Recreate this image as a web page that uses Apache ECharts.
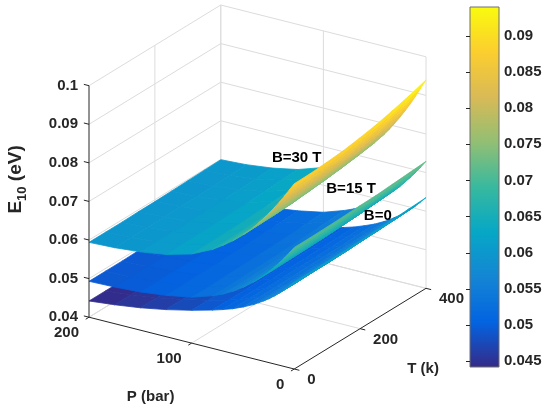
<!DOCTYPE html>
<html>
<head>
<meta charset="utf-8">
<script src="https://cdn.jsdelivr.net/npm/echarts@6.0.0/dist/echarts.min.js"></script>
<style>
html, body { margin: 0; padding: 0; background: #fff; }
#main { width: 550px; height: 413px; }
</style>
</head>
<body>
<div id="main"></div>
<script>
var chart = echarts.init(document.getElementById('main'), null, {renderer: 'canvas'});

// surfaces E10(P,T): one row per T value, one column per P value
var pValues = [0, 5, 10, 15, 20, 25, 30, 35, 40, 50, 60, 70, 80, 100, 125, 150, 175, 200];
var tValues = [0, 50, 100, 150, 200, 250, 300, 350, 400];

var e_B0 = [
  [0.0625, 0.0611, 0.0598, 0.0586, 0.0575, 0.0565, 0.0556, 0.0548, 0.0540, 0.0527, 0.0516, 0.0507, 0.0499, 0.0485, 0.0470, 0.0458, 0.0449, 0.0442],
  [0.0625, 0.0611, 0.0598, 0.0586, 0.0575, 0.0565, 0.0556, 0.0548, 0.0540, 0.0527, 0.0516, 0.0507, 0.0499, 0.0485, 0.0470, 0.0458, 0.0449, 0.0442],
  [0.0626, 0.0612, 0.0599, 0.0587, 0.0576, 0.0566, 0.0557, 0.0548, 0.0540, 0.0527, 0.0516, 0.0507, 0.0499, 0.0485, 0.0470, 0.0458, 0.0449, 0.0442],
  [0.0626, 0.0612, 0.0599, 0.0587, 0.0576, 0.0566, 0.0557, 0.0549, 0.0541, 0.0528, 0.0517, 0.0508, 0.0500, 0.0486, 0.0471, 0.0458, 0.0449, 0.0442],
  [0.0627, 0.0613, 0.0600, 0.0588, 0.0577, 0.0567, 0.0558, 0.0550, 0.0542, 0.0529, 0.0518, 0.0508, 0.0500, 0.0486, 0.0471, 0.0459, 0.0450, 0.0443],
  [0.0629, 0.0615, 0.0602, 0.0590, 0.0579, 0.0568, 0.0559, 0.0551, 0.0543, 0.0529, 0.0518, 0.0509, 0.0501, 0.0487, 0.0472, 0.0459, 0.0450, 0.0443],
  [0.0631, 0.0617, 0.0604, 0.0591, 0.0580, 0.0569, 0.0560, 0.0552, 0.0544, 0.0530, 0.0519, 0.0510, 0.0502, 0.0487, 0.0472, 0.0460, 0.0451, 0.0444],
  [0.0633, 0.0619, 0.0605, 0.0593, 0.0582, 0.0571, 0.0562, 0.0553, 0.0545, 0.0532, 0.0521, 0.0511, 0.0503, 0.0488, 0.0473, 0.0460, 0.0451, 0.0444],
  [0.0635, 0.0621, 0.0607, 0.0595, 0.0584, 0.0573, 0.0564, 0.0555, 0.0547, 0.0533, 0.0522, 0.0512, 0.0504, 0.0489, 0.0474, 0.0461, 0.0452, 0.0445]
];
var e_B15 = [
  [0.0715, 0.0697, 0.0680, 0.0664, 0.0649, 0.0635, 0.0622, 0.0610, 0.0598, 0.0578, 0.0561, 0.0547, 0.0536, 0.0519, 0.0507, 0.0499, 0.0495, 0.0493],
  [0.0715, 0.0697, 0.0680, 0.0664, 0.0649, 0.0635, 0.0622, 0.0610, 0.0598, 0.0578, 0.0561, 0.0547, 0.0536, 0.0519, 0.0507, 0.0499, 0.0495, 0.0493],
  [0.0716, 0.0698, 0.0681, 0.0665, 0.0650, 0.0636, 0.0623, 0.0611, 0.0599, 0.0579, 0.0562, 0.0548, 0.0537, 0.0520, 0.0508, 0.0500, 0.0496, 0.0493],
  [0.0717, 0.0699, 0.0682, 0.0666, 0.0651, 0.0637, 0.0624, 0.0612, 0.0600, 0.0580, 0.0563, 0.0549, 0.0538, 0.0521, 0.0508, 0.0500, 0.0496, 0.0494],
  [0.0719, 0.0701, 0.0684, 0.0668, 0.0653, 0.0638, 0.0625, 0.0613, 0.0601, 0.0581, 0.0564, 0.0550, 0.0539, 0.0522, 0.0510, 0.0501, 0.0497, 0.0495],
  [0.0720, 0.0702, 0.0685, 0.0669, 0.0654, 0.0640, 0.0627, 0.0615, 0.0603, 0.0583, 0.0566, 0.0552, 0.0541, 0.0523, 0.0511, 0.0503, 0.0498, 0.0496],
  [0.0723, 0.0705, 0.0688, 0.0672, 0.0657, 0.0642, 0.0629, 0.0617, 0.0605, 0.0585, 0.0568, 0.0554, 0.0543, 0.0525, 0.0513, 0.0504, 0.0499, 0.0497],
  [0.0726, 0.0708, 0.0691, 0.0675, 0.0660, 0.0645, 0.0632, 0.0620, 0.0608, 0.0588, 0.0570, 0.0556, 0.0545, 0.0527, 0.0515, 0.0506, 0.0501, 0.0498],
  [0.0729, 0.0711, 0.0694, 0.0678, 0.0663, 0.0648, 0.0635, 0.0623, 0.0611, 0.0591, 0.0573, 0.0559, 0.0548, 0.0530, 0.0517, 0.0508, 0.0503, 0.0500]
];
var e_B30 = [
  [0.0880, 0.0860, 0.0840, 0.0821, 0.0803, 0.0786, 0.0770, 0.0755, 0.0740, 0.0714, 0.0692, 0.0673, 0.0656, 0.0631, 0.0613, 0.0603, 0.0597, 0.0594],
  [0.0881, 0.0861, 0.0841, 0.0822, 0.0804, 0.0787, 0.0771, 0.0756, 0.0741, 0.0715, 0.0693, 0.0673, 0.0656, 0.0631, 0.0613, 0.0603, 0.0597, 0.0594],
  [0.0884, 0.0863, 0.0843, 0.0824, 0.0806, 0.0789, 0.0772, 0.0757, 0.0742, 0.0716, 0.0694, 0.0674, 0.0657, 0.0632, 0.0614, 0.0603, 0.0597, 0.0594],
  [0.0888, 0.0868, 0.0847, 0.0828, 0.0809, 0.0792, 0.0776, 0.0760, 0.0745, 0.0718, 0.0696, 0.0676, 0.0659, 0.0633, 0.0615, 0.0604, 0.0598, 0.0595],
  [0.0895, 0.0874, 0.0853, 0.0833, 0.0814, 0.0797, 0.0780, 0.0764, 0.0749, 0.0722, 0.0699, 0.0679, 0.0661, 0.0635, 0.0616, 0.0605, 0.0599, 0.0595],
  [0.0903, 0.0882, 0.0860, 0.0840, 0.0821, 0.0802, 0.0785, 0.0769, 0.0753, 0.0726, 0.0702, 0.0682, 0.0664, 0.0637, 0.0617, 0.0606, 0.0599, 0.0596],
  [0.0914, 0.0891, 0.0869, 0.0848, 0.0828, 0.0810, 0.0792, 0.0775, 0.0759, 0.0731, 0.0707, 0.0686, 0.0667, 0.0639, 0.0619, 0.0607, 0.0600, 0.0597],
  [0.0926, 0.0903, 0.0880, 0.0858, 0.0838, 0.0818, 0.0800, 0.0783, 0.0766, 0.0737, 0.0712, 0.0691, 0.0671, 0.0643, 0.0622, 0.0609, 0.0602, 0.0598],
  [0.0940, 0.0916, 0.0892, 0.0869, 0.0848, 0.0828, 0.0809, 0.0791, 0.0774, 0.0744, 0.0718, 0.0696, 0.0676, 0.0646, 0.0624, 0.0611, 0.0603, 0.0599]
];
var sheetNames = ['B=0', 'B=15 T', 'B=30 T'];

var pTicks = [0, 100, 200];
var tTicks = [0, 200, 400];
var eTicks = [0.04, 0.05, 0.06, 0.07, 0.08, 0.09, 0.1];
var cbTicks = [0.045, 0.05, 0.055, 0.06, 0.065, 0.07, 0.075, 0.08, 0.085, 0.09];

var parula = ['#352a87', '#0363e1', '#1485d4', '#06a7c6', '#38b99e', '#92bf73', '#d9ba56', '#fcce2e', '#f9fb0e'];
var fontFam = '"Liberation Sans", Arial, Helvetica, sans-serif';
var axisColor = '#262626';
var gridColor = '#dcdcdc';

var sheets = [e_B0, e_B15, e_B30];

// where the sheet names sit (P, T, E)
var sheetLabelAt = [[47, 400, 0.0557], [73, 400, 0.0609], [126, 400, 0.0654]];

// ---- view, matlab style azimuth / elevation ----
var RAD = Math.PI / 180;
var viewAz = 147.3, viewEl = 23.2;
var boxAspect = [1, 1, 1.035];
var cb = Math.cos(viewAz * RAD), sb = Math.sin(viewAz * RAD);
var ce = Math.cos(viewEl * RAD), se = Math.sin(viewEl * RAD);
var pRange = [pTicks[0], pTicks[pTicks.length - 1]];
var tRange = [tTicks[0], tTicks[tTicks.length - 1]];
var eRange = [eTicks[0], eTicks[eTicks.length - 1]];

function norm(P, T, E) {
  return [(P - pRange[0]) / (pRange[1] - pRange[0]) * boxAspect[0],
          (T - tRange[0]) / (tRange[1] - tRange[0]) * boxAspect[1],
          (E - eRange[0]) / (eRange[1] - eRange[0]) * boxAspect[2]];
}
function proj(P, T, E) {
  var n = norm(P, T, E);
  return [n[0] * cb + n[1] * sb, se * (n[0] * sb - n[1] * cb) + ce * n[2]];
}
function depth(P, T, E) {
  var n = norm(P, T, E);
  return ce * (n[0] * sb - n[1] * cb) - se * n[2];
}

var eMin = Infinity, eMax = -Infinity;
sheets.forEach(function (g) {
  g.forEach(function (row) {
    row.forEach(function (v) { eMin = Math.min(eMin, v); eMax = Math.max(eMax, v); });
  });
});

// cells, far ones first, lower sheet first
var quads = [];
sheets.forEach(function (g, s) {
  var list = [];
  for (var i = 0; i < tValues.length - 1; i++) {
    for (var j = 0; j < pValues.length - 1; j++) {
      var c = [[j, i], [j + 1, i], [j + 1, i + 1], [j, i + 1]];
      var m = 0, d = 0;
      c.forEach(function (k) {
        m += g[k[1]][k[0]] / 4;
        d += depth(pValues[k[0]], tValues[k[1]], g[k[1]][k[0]]) / 4;
      });
      list.push({v: [m, s, i, j], d: d});
    }
  }
  list.sort(function (a, b) { return b.d - a.d; });
  list.forEach(function (q) { quads.push(q.v); });
});

function renderQuad(params, api) {
  var s = api.value(1), i = api.value(2), j = api.value(3);
  var g = sheets[s];
  var pts = [[j, i], [j + 1, i], [j + 1, i + 1], [j, i + 1]].map(function (k) {
    return api.coord(proj(pValues[k[0]], tValues[k[1]], g[k[1]][k[0]]));
  });
  var col = api.visual('color');
  return {type: 'polygon', shape: {points: pts}, style: {fill: col, stroke: col, lineWidth: 0.8}};
}

function seg(api, a, b, color, w) {
  var p1 = api.coord(proj(a[0], a[1], a[2]));
  var p2 = api.coord(proj(b[0], b[1], b[2]));
  return {type: 'line', shape: {x1: p1[0], y1: p1[1], x2: p2[0], y2: p2[1]},
          style: {stroke: color, lineWidth: w}};
}

function txt(x, y, text, align, vAlign, size) {
  return {type: 'text', x: x, y: y, style: {text: text, fill: axisColor, fontSize: size || 15, fontWeight: 'bold',
          fontFamily: fontFam, align: align, verticalAlign: vAlign}};
}

function renderGrid(params, api) {
  var ch = [];
  eTicks.forEach(function (E) {
    ch.push(seg(api, [pRange[1], tRange[0], E], [pRange[1], tRange[1], E], gridColor, 1));
    ch.push(seg(api, [pRange[0], tRange[1], E], [pRange[1], tRange[1], E], gridColor, 1));
  });
  tTicks.forEach(function (T) {
    if (T === tRange[0]) return;
    ch.push(seg(api, [pRange[1], T, eRange[0]], [pRange[1], T, eRange[1]], gridColor, 1));
    ch.push(seg(api, [pRange[0], T, eRange[0]], [pRange[1], T, eRange[0]], gridColor, 1));
  });
  pTicks.forEach(function (P) {
    ch.push(seg(api, [P, tRange[1], eRange[0]], [P, tRange[1], eRange[1]], gridColor, 1));
    if (P !== pRange[0]) ch.push(seg(api, [P, tRange[0], eRange[0]], [P, tRange[1], eRange[0]], gridColor, 1));
  });
  return {type: 'group', children: ch};
}

function renderAxes(params, api) {
  var ch = [];
  var dp = (pRange[1] - pRange[0]) * 0.025, dt = (tRange[1] - tRange[0]) * 0.025;
  ch.push(seg(api, [pRange[1], tRange[0], eRange[0]], [pRange[1], tRange[0], eRange[1]], axisColor, 1));
  ch.push(seg(api, [pRange[0], tRange[0], eRange[0]], [pRange[1], tRange[0], eRange[0]], axisColor, 1));
  ch.push(seg(api, [pRange[0], tRange[0], eRange[0]], [pRange[0], tRange[1], eRange[0]], axisColor, 1));
  eTicks.forEach(function (E) {
    ch.push(seg(api, [pRange[1], tRange[0], E], [pRange[1] + dp, tRange[0], E], axisColor, 1));
    var c = api.coord(proj(pRange[1], tRange[0], E));
    ch.push(txt(c[0] - 11, c[1], String(E), 'right', 'middle'));
  });
  pTicks.forEach(function (P) {
    ch.push(seg(api, [P, tRange[0], eRange[0]], [P, tRange[0] - dt, eRange[0]], axisColor, 1));
    var c = api.coord(proj(P, tRange[0], eRange[0]));
    ch.push(txt(c[0] - 10, c[1] + 16, String(P), 'right', 'middle'));
  });
  tTicks.forEach(function (T) {
    ch.push(seg(api, [pRange[0], T, eRange[0]], [pRange[0] - dp, T, eRange[0]], axisColor, 1));
    var c = api.coord(proj(pRange[0], T, eRange[0]));
    ch.push(txt(c[0] + 13, c[1] + 11, String(T), 'left', 'middle'));
  });
  var pm = api.coord(proj((pRange[0] + pRange[1]) / 2, tRange[0], eRange[0]));
  ch.push(txt(pm[0] - 41, pm[1] + 54, 'P (bar)', 'center', 'middle', 15));
  var tm = api.coord(proj(pRange[0], (tRange[0] + tRange[1]) / 2, eRange[0]));
  ch.push(txt(tm[0] + 63, tm[1] + 40, 'T (k)', 'center', 'middle', 15));
  var em = api.coord(proj(pRange[1], tRange[0], (eRange[0] + eRange[1]) / 2));
  ch.push({type: 'text', x: em[0] - 73, y: em[1] - 22, rotation: Math.PI / 2,
    style: {text: '{a|E}{b|10}{a| (eV)}', align: 'center', verticalAlign: 'middle',
      rich: {
        a: {fontSize: 19, fontWeight: 'bold', fontFamily: fontFam, fill: axisColor, color: axisColor, lineHeight: 26, verticalAlign: 'middle'},
        b: {fontSize: 13, fontWeight: 'bold', fontFamily: fontFam, fill: axisColor, color: axisColor, lineHeight: 13, verticalAlign: 'bottom'}
      }}});
  return {type: 'group', children: ch};
}

function renderNames(params, api) {
  var k = params.dataIndex;
  var a = sheetLabelAt[k];
  var c = api.coord(proj(a[0], a[1], a[2]));
  return {type: 'text', x: c[0], y: c[1], style: {text: sheetNames[k], fill: '#000', fontSize: 15, fontWeight: 'bold',
    fontFamily: fontFam, align: 'center', verticalAlign: 'middle'}};
}

function renderColorbar(params, api) {
  var tl = api.coord([0, eMax]), br = api.coord([1, eMin]);
  var stops = parula.map(function (c, i) { return {offset: i / (parula.length - 1), color: c}; });
  return {type: 'rect', shape: {x: tl[0], y: tl[1], width: br[0] - tl[0], height: br[1] - tl[1]},
    style: {fill: new echarts.graphic.LinearGradient(0, 1, 0, 0, stops), stroke: '#6e6e6e', lineWidth: 1}};
}

var c0 = proj(pRange[0], tRange[0], eRange[0]);
var uMin = proj(pRange[1], tRange[0], eRange[0])[0];
var uMax = proj(pRange[0], tRange[1], eRange[0])[0];
var vMax = proj(pRange[1], tRange[1], eRange[1])[1];

var option = {
  backgroundColor: '#fff',
  animation: false,
  grid: [
    {left: 89, right: 124, top: 5, bottom: 44},
    {left: 470, width: 29, top: 7, bottom: 46}
  ],
  xAxis: [
    {type: 'value', gridIndex: 0, min: uMin, max: uMax, show: false},
    {type: 'value', gridIndex: 1, min: 0, max: 1, show: false}
  ],
  yAxis: [
    {type: 'value', gridIndex: 0, min: c0[1], max: vMax, show: false},
    {type: 'value', gridIndex: 1, min: eMin, max: eMax, position: 'right', z: 10,
      axisLine: {show: false}, splitLine: {show: false},
      axisTick: {show: true, inside: true, length: 4, lineStyle: {color: axisColor}, customValues: cbTicks},
      axisLabel: {customValues: cbTicks, margin: 5, fontSize: 15, fontWeight: 'bold', fontFamily: fontFam, color: axisColor,
        formatter: function (v) { return String(+(+v).toFixed(3)); }}}
  ],
  visualMap: {type: 'continuous', show: false, seriesIndex: 1, dimension: 0, min: eMin, max: eMax,
    inRange: {color: parula}},
  series: [
    {type: 'custom', xAxisIndex: 0, yAxisIndex: 0, z: 1, clip: false, silent: true, data: [[0]], renderItem: renderGrid},
    {type: 'custom', xAxisIndex: 0, yAxisIndex: 0, z: 2, clip: false, silent: true, data: quads, renderItem: renderQuad},
    {type: 'custom', xAxisIndex: 0, yAxisIndex: 0, z: 3, clip: false, silent: true, data: [[0]], renderItem: renderAxes},
    {type: 'custom', xAxisIndex: 0, yAxisIndex: 0, z: 4, clip: false, silent: true, data: [[0], [1], [2]], renderItem: renderNames},
    {type: 'custom', xAxisIndex: 1, yAxisIndex: 1, z: 1, clip: false, silent: true, data: [[0]], renderItem: renderColorbar}
  ]
};

chart.setOption(option);
</script>
</body>
</html>
